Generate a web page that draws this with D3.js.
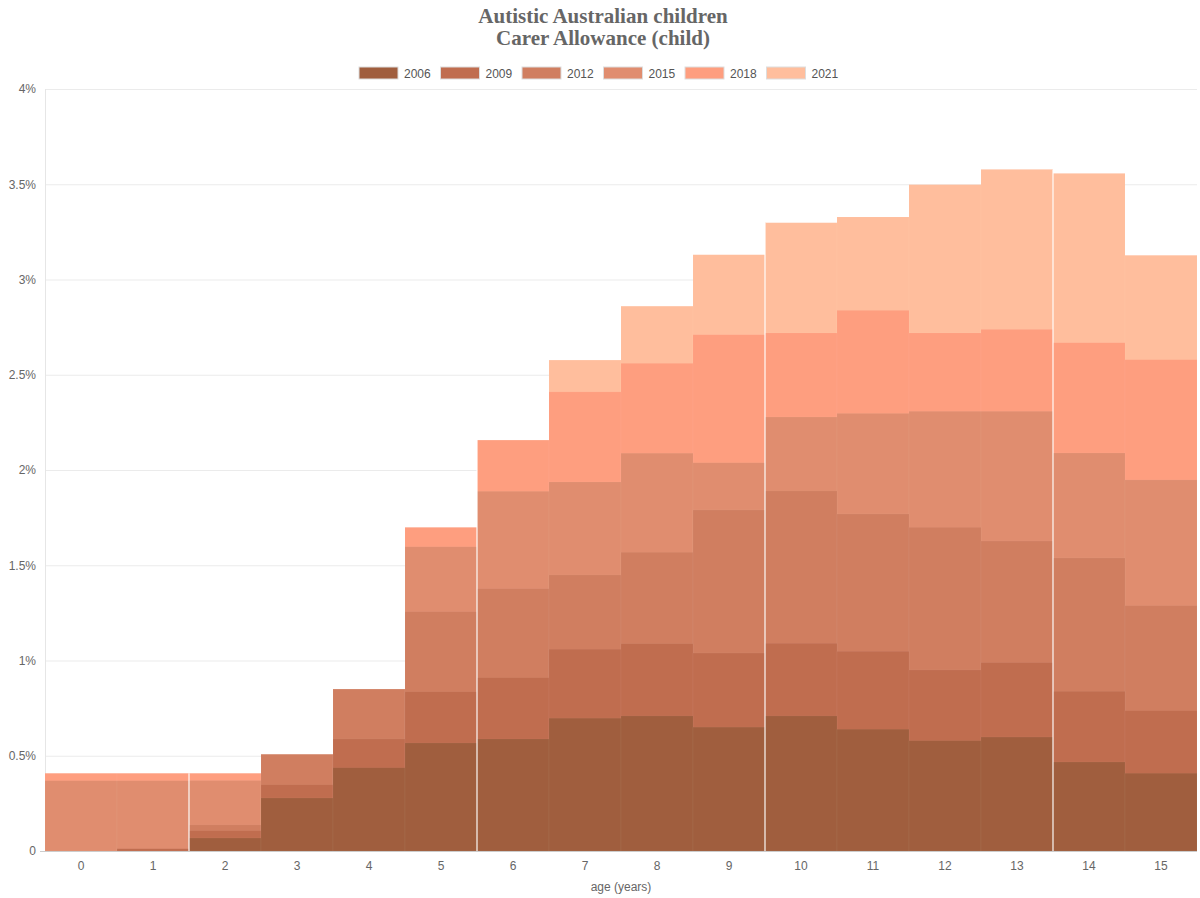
<!DOCTYPE html>
<html>
<head>
<meta charset="utf-8">
<script src="https://cdn.jsdelivr.net/npm/d3@7/dist/d3.min.js"></script>
<style>
  body { margin: 0; background: #fff; }
  svg text { font-family: "Liberation Sans", Arial, sans-serif; }
</style>
</head>
<body>
<script>
(function(){
    //ages on the x axis
    var ages = [0,1,2,3,4,5,6,7,8,9,10,11,12,13,14,15];
    var years = ['2006','2009','2012','2015','2018','2021'];
    var colors = ['#a05e3e','#c06d4f','#d07e60','#e08d6f','#fe9e7f','#ffbe9d'];

    //share of children (%) per age, null = hidden behind later series
    var v2006 = [null,null,0.068,0.278,0.437,0.567,0.588,0.697,0.709,0.65,0.709,0.639,0.579,0.598,0.467,0.408];
    var v2009 = [null,0.012,0.107,0.348,0.588,0.836,0.91,1.059,1.088,1.039,1.09,1.048,0.95,0.989,0.838,0.737];
    var v2012 = [null,null,0.137,0.508,0.85,1.256,1.377,1.449,1.568,1.79,1.89,1.769,1.699,1.627,1.538,1.288];
    var v2015 = [0.369,0.369,0.37,null,null,1.597,1.888,1.937,2.088,2.038,2.278,2.297,2.308,2.308,2.089,1.948];
    var v2018 = [0.408,0.408,0.408,null,null,1.699,2.157,2.41,2.56,2.71,2.719,2.838,2.719,2.738,2.668,2.579];
    var v2021 = [null,null,null,null,null,null,null,2.577,2.86,3.13,3.298,3.328,3.498,3.578,3.557,3.127];
    var seriesValues = [v2006, v2009, v2012, v2015, v2018, v2021];

    var yTicks = [0,0.5,1,1.5,2,2.5,3,3.5,4];
    var dividerAfter = [1,5,9,13]; //white separators after these ages

    var width = 1200, height = 898;
    var left = 45, right = 1197, top = 89, bottom = 851;

    var svg = d3.select("body").append("svg")
        .attr("width", width)
        .attr("height", height);

    var x = d3.scaleBand().domain(ages).range([left, right]).padding(0);
    var y = d3.scaleLinear().domain([0, 4]).range([bottom, top]);

    //title
    var title = svg.append("text")
        .attr("text-anchor", "middle")
        .attr("fill", "#666")
        .style("font-family", "'Liberation Serif', 'Times New Roman', serif")
        .style("font-weight", "bold")
        .style("font-size", "21px");
    title.append("tspan").attr("x", 603).attr("y", 23).text("Autistic Australian children");
    title.append("tspan").attr("x", 603).attr("y", 45).text("Carer Allowance (child)");

    //legend
    var legend = svg.append("g");
    years.forEach(function(yr, i){
        var lx = 359 + i * 81.5;
        legend.append("rect")
            .attr("x", lx).attr("y", 67)
            .attr("width", 39).attr("height", 12)
            .attr("fill", colors[i])
            .attr("stroke", "#ddd").attr("stroke-width", 1);
        legend.append("text")
            .attr("x", lx + 45).attr("y", 77.5)
            .attr("fill", "#555")
            .style("font-size", "12px")
            .text(yr);
    });

    //gridlines
    svg.append("g").selectAll("line")
        .data(yTicks)
        .enter().append("line")
        .attr("x1", left).attr("x2", right)
        .attr("y1", function(d){ return y(d) + 0.5; })
        .attr("y2", function(d){ return y(d) + 0.5; })
        .attr("stroke", "#ebebeb");

    svg.append("line")
        .attr("x1", left + 0.5).attr("x2", left + 0.5)
        .attr("y1", top).attr("y2", bottom)
        .attr("stroke", "#e6e6e6");

    //y axis labels
    var yAxis = d3.axisLeft(y)
        .tickValues(yTicks)
        .tickSize(6)
        .tickFormat(function(d){ return d === 0 ? "0" : d + "%"; });
    var gy = svg.append("g")
        .attr("transform", "translate(" + left + ",0)")
        .call(yAxis);
    gy.select(".domain").remove();
    gy.selectAll(".tick line").attr("stroke", "#ccc").attr("x2", -5);
    gy.selectAll(".tick text")
        .attr("x", -9)
        .attr("fill", "#666")
        .style("font-size", "12px")
        .style("font-family", "'Liberation Sans', Arial, sans-serif");
    gy.selectAll(".tick line").filter(function(d){ return d !== 0; }).remove();

    //step areas, latest year at the back
    for (var s = years.length - 1; s >= 0; s--){
        var vals = seriesValues[s];
        svg.append("g")
            .attr("class", "series s" + years[s])
            .selectAll("rect")
            .data(ages.filter(function(a){ return vals[a] !== null; }))
            .enter().append("rect")
            .attr("x", function(a){ return x(a); })
            .attr("width", x.bandwidth())
            .attr("y", function(a){ return y(vals[a]); })
            .attr("height", function(a){ return bottom - y(vals[a]); })
            .attr("fill", colors[s])
            .attr("stroke", "#fff")
            .attr("stroke-opacity", 0.05)
            .attr("stroke-width", 0.8);
    }

    //white separators
    svg.append("g").selectAll("line")
        .data(dividerAfter)
        .enter().append("line")
        .attr("x1", function(a){ return x(a) + x.bandwidth(); })
        .attr("x2", function(a){ return x(a) + x.bandwidth(); })
        .attr("y1", bottom)
        .attr("y2", function(a){
            var m = 0;
            seriesValues.forEach(function(v){
                if (v[a] !== null) m = Math.max(m, v[a]);
                if (v[a + 1] !== null) m = Math.max(m, v[a + 1]);
            });
            return y(m);
        })
        .attr("stroke", "#fff")
        .attr("stroke-opacity", 0.75)
        .attr("stroke-width", 1.5);

    //baseline
    svg.append("line")
        .attr("x1", left).attr("x2", right)
        .attr("y1", bottom + 0.5).attr("y2", bottom + 0.5)
        .attr("stroke", "#ccc");

    //x axis labels
    var xAxis = d3.axisBottom(x).tickSize(0).tickPadding(10);
    var gx = svg.append("g")
        .attr("transform", "translate(0," + bottom + ")")
        .call(xAxis);
    gx.select(".domain").remove();
    gx.selectAll(".tick text")
        .attr("fill", "#666")
        .style("font-size", "12px")
        .style("font-family", "'Liberation Sans', Arial, sans-serif");

    svg.append("text")
        .attr("x", (left + right) / 2)
        .attr("y", 891)
        .attr("text-anchor", "middle")
        .attr("fill", "#666")
        .style("font-size", "12px")
        .text("age (years)");
})();
</script>
</body>
</html>
